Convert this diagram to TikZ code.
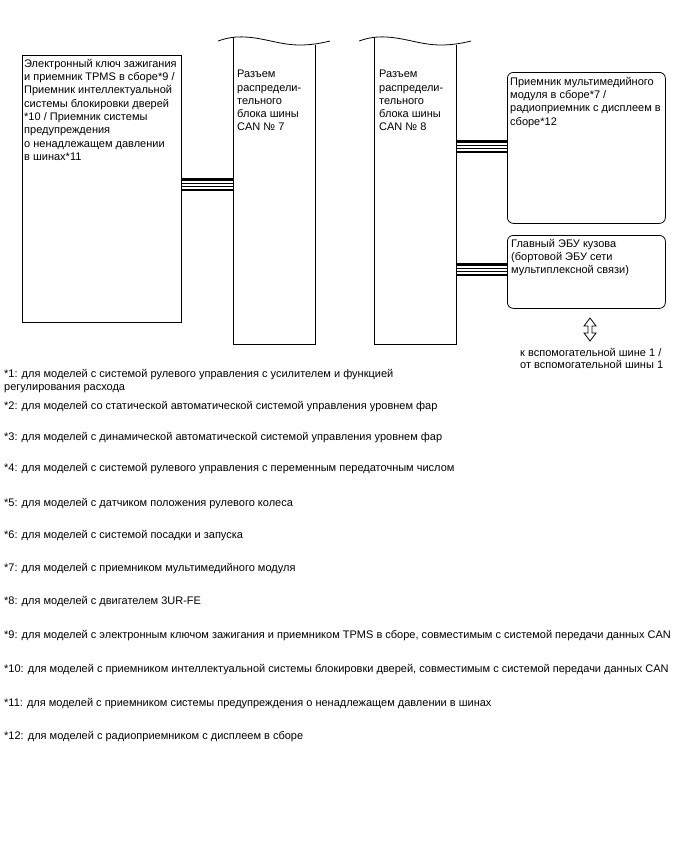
\documentclass[tikz,border=0pt]{standalone}
\usepackage{fontspec}
\setmainfont{Liberation Sans}
\newcommand\lbl{\fontsize{11}{13.3}\selectfont}

\tikzset{
  unit/.style={draw, line width=0.8pt, inner sep=0pt, anchor=north west},
  ecu/.style={unit, rounded corners=6pt},
  txt/.style={anchor=north west, inner sep=0pt, align=left, font=\lbl},
  note/.style={anchor=west, inner sep=0pt, font=\lbl},
  wire/.style={line width=2.2pt},
  pair/.style={line width=0.6pt},
}

\begin{document}
\begin{tikzpicture}[x=1pt, y=-1pt]
  \useasboundingbox (0,0) rectangle (688,852);

  % key / TPMS receiver
  \node[unit, minimum width=159pt, minimum height=267pt] (keyrcv) at (22,55) {};
  \node[txt] (keyrcvT) at (24,59) {Электронный ключ зажигания\\и приемник TPMS в сборе*9 /\\Приемник интеллектуальной\\системы блокировки дверей\\*10 / Приемник системы\\предупреждения\\о ненадлежащем давлении\\в шинах*11};

  % junction connectors, open at the top
  \node[inner sep=0pt, minimum width=82pt, minimum height=306.5pt, anchor=south west] (can7) at (233,344) {};
  \node[inner sep=0pt, minimum width=82pt, minimum height=306.5pt, anchor=south west] (can8) at (374,344) {};
  \draw[line width=0.8pt] (can7.north west) -- (can7.south west) -- (can7.south east) -- (can7.east |- 0,44.5);
  \draw[line width=0.8pt] (can8.north west) -- (can8.south west) -- (can8.south east) -- (can8.east |- 0,44.5);
  \draw[line width=0.8pt] (218,41) .. controls (228,37.5) and (236,36.5) .. (245,37)
    .. controls (265,38) and (280,45) .. (300,45) .. controls (312,45) and (322,43) .. (330,41);
  \draw[line width=0.8pt] (359,41) .. controls (369,37.5) and (377,36.5) .. (386,37)
    .. controls (406,38) and (421,45) .. (441,45) .. controls (453,45) and (463,43) .. (471,41);
  \node[txt] (can7T) at (237,70) {Разъем\\распредели-\\тельного\\блока шины\\CAN № 7};
  \node[txt] (can8T) at (379,70) {Разъем\\распредели-\\тельного\\блока шины\\CAN № 8};

  % multimedia and body ECU
  \node[ecu, minimum width=158pt, minimum height=151pt] (media) at (507,72) {};
  \node[txt] (mediaT) at (510,77) {Приемник мультимедийного\\модуля в сборе*7 /\\радиоприемник с дисплеем в\\сборе*12};
  \node[ecu, minimum width=158pt, minimum height=73pt] (body) at (507,235) {};
  \node[txt] (bodyT) at (511,239) {Главный ЭБУ кузова\\(бортовой ЭБУ сети\\мультиплексной связи)};

  % CAN buses
  \foreach \dy/\s in {0/wire,3.5/pair,7/pair,10.5/wire}{
    \draw[\s] (keyrcv.east |- 0,179.5+\dy) -- (can7.west |- 0,179.5+\dy);
    \draw[\s] (can8.east |- 0,141.5+\dy) -- (media.west |- 0,141.5+\dy);
    \draw[\s] (can8.east |- 0,264.5+\dy) -- (body.west |- 0,264.5+\dy);
  }

  % to / from sub bus 1
  \draw[line width=0.8pt] (590,318) -- (596,326) -- (592,326) -- (592,333) -- (596,333)
    -- (590,341) -- (584,333) -- (588,333) -- (588,326) -- (584,326) -- cycle;
  \node[txt, font=\fontsize{11}{12}\selectfont] (subbus) at (520,348) {к вспомогательной шине 1 /\\от вспомогательной шины 1};

  % notes
  \node[txt] (n1) at (4,369) {*1: для моделей с системой рулевого управления с усилителем и функцией\\регулирования расхода};
  \node[note] (n2) at (4,407) {*2: для моделей со статической автоматической системой управления уровнем фар};
  \node[note] (n3) at (4,438) {*3: для моделей с динамической автоматической системой управления уровнем фар};
  \node[note] (n4) at (4,469) {*4: для моделей с системой рулевого управления с переменным передаточным числом};
  \node[note] (n5) at (4,504) {*5: для моделей с датчиком положения рулевого колеса};
  \node[note] (n6) at (4,536) {*6: для моделей с системой посадки и запуска};
  \node[note] (n7) at (4,569) {*7: для моделей с приемником мультимедийного модуля};
  \node[note] (n8) at (4,602) {*8: для моделей с двигателем 3UR-FE};
  \node[note] (n9) at (4,636) {*9: для моделей с электронным ключом зажигания и приемником TPMS в сборе, совместимым с системой передачи данных CAN};
  \node[note] (n10) at (4,670) {*10: для моделей с приемником интеллектуальной системы блокировки дверей, совместимым с системой передачи данных CAN};
  \node[note] (n11) at (4,704) {*11: для моделей с приемником системы предупреждения о ненадлежащем давлении в шинах};
  \node[note] (n12) at (4,737) {*12: для моделей с радиоприемником с дисплеем в сборе};
\end{tikzpicture}
\end{document}
